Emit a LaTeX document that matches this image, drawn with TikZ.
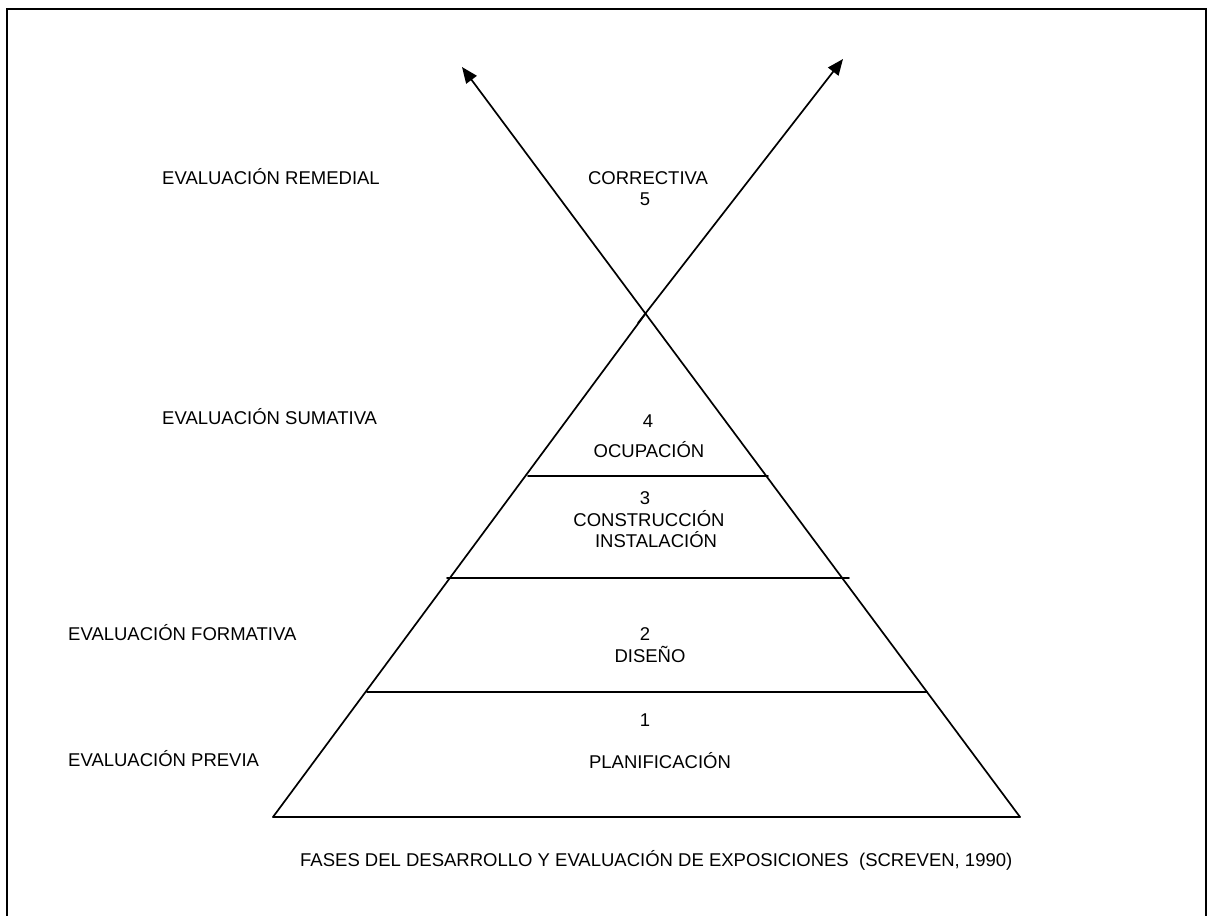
\documentclass[tikz,border=0pt]{standalone}
\usepackage{fontspec}
\setmainfont{Liberation Sans}
\usetikzlibrary{arrows.meta}

\begin{document}
\begin{tikzpicture}[x=1pt,y=-1pt,
  label/.style={inner sep=0pt,anchor=base,font=\fontsize{18.5}{22}\selectfont},
  side/.style={label,anchor=base west},
  edge/.style={line width=1.7pt,line cap=round},
  arrowline/.style={edge,-{Triangle[length=16pt,width=13pt]}}]

\useasboundingbox (0,0) rectangle (1208,916);

% outer frame (its lower edge lies below the page)
\draw[line width=2pt] (7,930) -- (7,9) -- (1206,9) -- (1206,930);

% key points of the pyramid
\coordinate (bl) at (273,817);
\coordinate (br) at (1020,817);
\coordinate (apex) at (646,313);
\coordinate (kink) at (638,323);
\coordinate (tipL) at (462,67);
\coordinate (tipR) at (843,59);

% base and sides
\draw[edge] (bl) -- (br);
\draw[edge] (bl) -- (apex);
\draw[arrowline] (kink) -- (tipR);
\draw[arrowline] (br) -- (tipL);

% level separators
\coordinate (s4a) at (528,476); \coordinate (s4b) at (768,476);
\coordinate (s3a) at (447,578); \coordinate (s3b) at (849,578);
\coordinate (s2a) at (367,692); \coordinate (s2b) at (927,692);
\draw[edge] (s4a) -- (s4b);
\draw[edge] (s3a) -- (s3b);
\draw[edge] (s2a) -- (s2b);

% level labels inside the pyramid
\node[label] (correctiva) at (648,184) {CORRECTIVA};
\node[label] (n5) at (645,205.5) {5};
\node[label] (n4) at (648,427) {4};
\node[label] (ocupacion) at (649,457.5) {OCUPACIÓN};
\node[label] (n3) at (645,504) {3};
\node[label] (construccion) at (649,526) {CONSTRUCCIÓN};
\node[label] (instalacion) at (656,547) {INSTALACIÓN};
\node[label] (n2) at (645,640) {2};
\node[label] (diseno) at (650,662) {DISEÑO};
\node[label] (n1) at (645,726) {1};
\node[label] (planificacion) at (660,768) {PLANIFICACIÓN};

% evaluation types on the left
\node[side] (remedial) at (162,184) {EVALUACIÓN REMEDIAL};
\node[side] (sumativa) at (162,424) {EVALUACIÓN SUMATIVA};
\node[side] (formativa) at (68,640) {EVALUACIÓN FORMATIVA};
\node[side] (previa) at (68,766) {EVALUACIÓN PREVIA};

% caption
\node[side] (caption) at (300,866) {FASES DEL DESARROLLO Y EVALUACIÓN DE EXPOSICIONES\ \ (SCREVEN, 1990)};
\end{tikzpicture}
\end{document}
